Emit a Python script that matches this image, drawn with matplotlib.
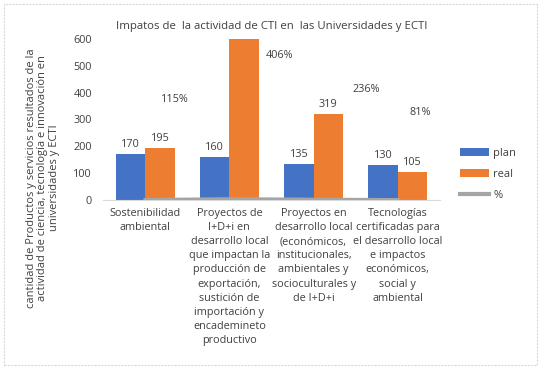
import numpy as np
import matplotlib
matplotlib.use("Agg")
import matplotlib.pyplot as plt
from matplotlib.patches import Rectangle

categories = [
    "Sostenibilidad\nambiental",
    "Proyectos de\nI+D+i en\ndesarrollo local\nque impactan la\nproducción de\nexportación,\nsustición de\nimportación y\nencademineto\nproductivo",
    "Proyectos en\ndesarrollo local\n(económicos,\ninstitucionales,\nambientales y\nsocioculturales y\nde I+D+i",
    "Tecnologías\ncertificadas para\nel desarrollo local\ne impactos\neconómicos,\nsocial y\nambiental",
]
plan = [170, 160, 135, 130]
real = [195, 650, 319, 105]
pct = [1.15, 4.06, 2.36, 0.81]
# where Excel left the % labels (x offset in categories, y in axis units)
pct_label_pos = [(0.35, 375), (0.6, 540), (0.62, 410), (0.26, 325)]

BLUE = "#4472C4"
ORANGE = "#ED7D31"
GRAY = "#A5A5A5"
TXT = "#404040"
plt.rcParams["font.family"] = ["Open Sans", "DejaVu Sans"]

fig = plt.figure(figsize=(5.41, 3.69), dpi=100)
ax = fig.add_axes([103 / 541, 1 - 200 / 369, 337 / 541, 161 / 369])

x = np.arange(len(categories))
w = 0.35
b1 = ax.bar(x - w / 2, plan, w, color=BLUE, label="plan")
b2 = ax.bar(x + w / 2, real, w, color=ORANGE, label="real")
ln, = ax.plot(x, pct, color=GRAY, lw=2.5, label="%", zorder=3)

ax.set_ylim(0, 600)
ax.set_xlim(-0.5, len(categories) - 0.5)
ax.set_yticks(range(0, 601, 100))
ax.set_xticks(x)
ax.set_xticklabels(categories, fontsize=7.8, color=TXT, linespacing=1.38)
ax.tick_params(axis="y", labelsize=7.8, colors=TXT, length=0, pad=8)
ax.tick_params(axis="x", length=0, pad=6)
for s in ["top", "right", "left"]:
    ax.spines[s].set_visible(False)
ax.spines["bottom"].set_color("#D9D9D9")

for i in range(len(categories)):
    ax.text(x[i] - w / 2, plan[i] + 15, str(plan[i]), ha="center", va="bottom", fontsize=7.8, color=TXT)
    if real[i] <= 600:
        ax.text(x[i] + w / 2, real[i] + 15, str(real[i]), ha="center", va="bottom", fontsize=7.8, color=TXT)
    dx, yy = pct_label_pos[i]
    ax.text(x[i] + dx, yy, f"{round(pct[i] * 100)}%", ha="center", va="center", fontsize=7.8, color=TXT)

ax.set_title("Impatos de  la actividad de CTI en  las Universidades y ECTI",
             fontsize=8.2, color=TXT, pad=7, x=0.5)

fig.text(43 / 541, 1 - 178 / 369,
         "cantidad de Productos y servicios resultados de la\n"
         "actividad de ciencia, tecnología e innovación en\n"
         "universidades y ECTI",
         rotation=90, ha="center", va="center", fontsize=8, color=TXT, linespacing=1.1)

leg = ax.legend([b1, b2, ln], ["plan", "real", "%"], loc="center left", bbox_to_anchor=(1.03, 0.16),
                frameon=False, fontsize=8, handlelength=2.6, labelspacing=0.9, handletextpad=0.4)
for h in leg.legend_handles:
    if hasattr(h, "set_linewidth"):
        h.set_linewidth(3)
for t in leg.get_texts():
    t.set_color(TXT)

fig.patches.append(Rectangle((4 / 541, 4 / 369), 533 / 541, 361 / 369, transform=fig.transFigure,
                             fill=False, edgecolor="#D9D9D9", lw=0.8, ls=(0, (2, 1))))

fig.savefig("out.png", dpi=100)
